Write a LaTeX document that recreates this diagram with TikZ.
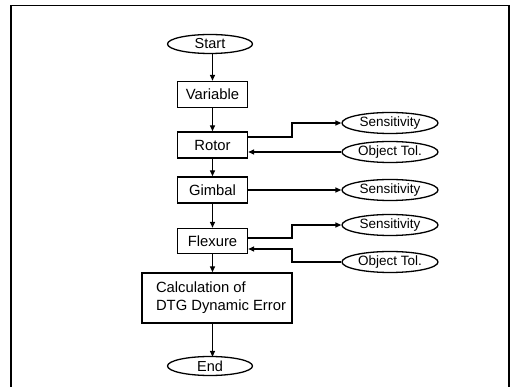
\documentclass[tikz,border=0pt]{standalone}
\usepackage{fontspec}
\setmainfont{Liberation Sans}
\usetikzlibrary{shapes.geometric,arrows.meta,calc}
\begin{document}
\begin{tikzpicture}[x=1pt,y=-1pt,
  box/.style={draw,line width=1.4pt,minimum width=70pt,minimum height=25pt,inner sep=0pt,font=\fontsize{14.8}{17}\selectfont},
  oval/.style={draw,ellipse,line width=1.3pt,minimum width=85pt,minimum height=19pt,inner sep=0pt,font=\fontsize{14.5}{16}\selectfont},
  side/.style={draw,ellipse,line width=1.3pt,minimum width=96pt,minimum height=21pt,inner sep=0pt,font=\fontsize{13.5}{15}\selectfont},
  conn/.style={line width=1.4pt,-{Triangle[length=6pt,width=5pt]}},
  frame/.style={line width=1.3pt}]
\useasboundingbox (0,0) rectangle (512,387);
\draw[frame] (11,387) -- (11,5.5) -- (509,5.5) -- (509,387);

\node[oval] (start) at (210,44) {Start};
\node[box,minimum height=26pt] (var) at (212.5,94.5) {Variable};
\node[box,minimum height=26pt] (rotor) at (212.5,145) {Rotor};
\node[box,minimum height=26pt] (gimbal) at (212.5,190) {Gimbal};
\node[box] (flex) at (212.5,241) {Flexure};
\node[box,minimum width=150pt,minimum height=50pt,align=left] (calc) at (217,298)
  {\hspace*{8pt}Calculation of\\[1pt]\hspace*{8pt}DTG Dynamic Error};
\node[oval] (end) at (210,366) {End};

\node[side] (s1) at (390,123) {Sensitivity};
\node[side] (o1) at (390,152) {Object Tol.};
\node[side] (s2) at (390,190) {Sensitivity};
\node[side] (s3) at (390,225) {Sensitivity};
\node[side] (o3) at (390,262) {Object Tol.};

\coordinate (j1) at (292,0);

\draw[conn] (start.south -| var.north) -- (var.north);
\draw[conn] (var.south) -- (rotor.north);
\draw[conn] (rotor.south) -- (gimbal.north);
\draw[conn] (gimbal.south) -- (flex.north);
\draw[conn] (flex.south) -- (flex.south |- calc.north);
\draw[conn] (calc.south -| flex.south) -- ($(end.north -| flex.south)+(0,1)$);

\coordinate (rout) at ([yshift=8pt]rotor.east);
\draw[conn] (rout) -| (j1 |- s1.west) -- (s1.west);
\draw[conn] (o1.west) -- (o1.west -| rotor.east);
\draw[conn] (gimbal.east) -- (s2.west);
\coordinate (fout) at ([yshift=3pt]flex.east);
\coordinate (fin) at ([yshift=-8pt]flex.east);
\draw[conn] (fout) -| (j1 |- s3.west) -- (s3.west);
\draw[conn] (o3.west) -| (j1 |- fin) -- (fin);
\end{tikzpicture}
\end{document}
